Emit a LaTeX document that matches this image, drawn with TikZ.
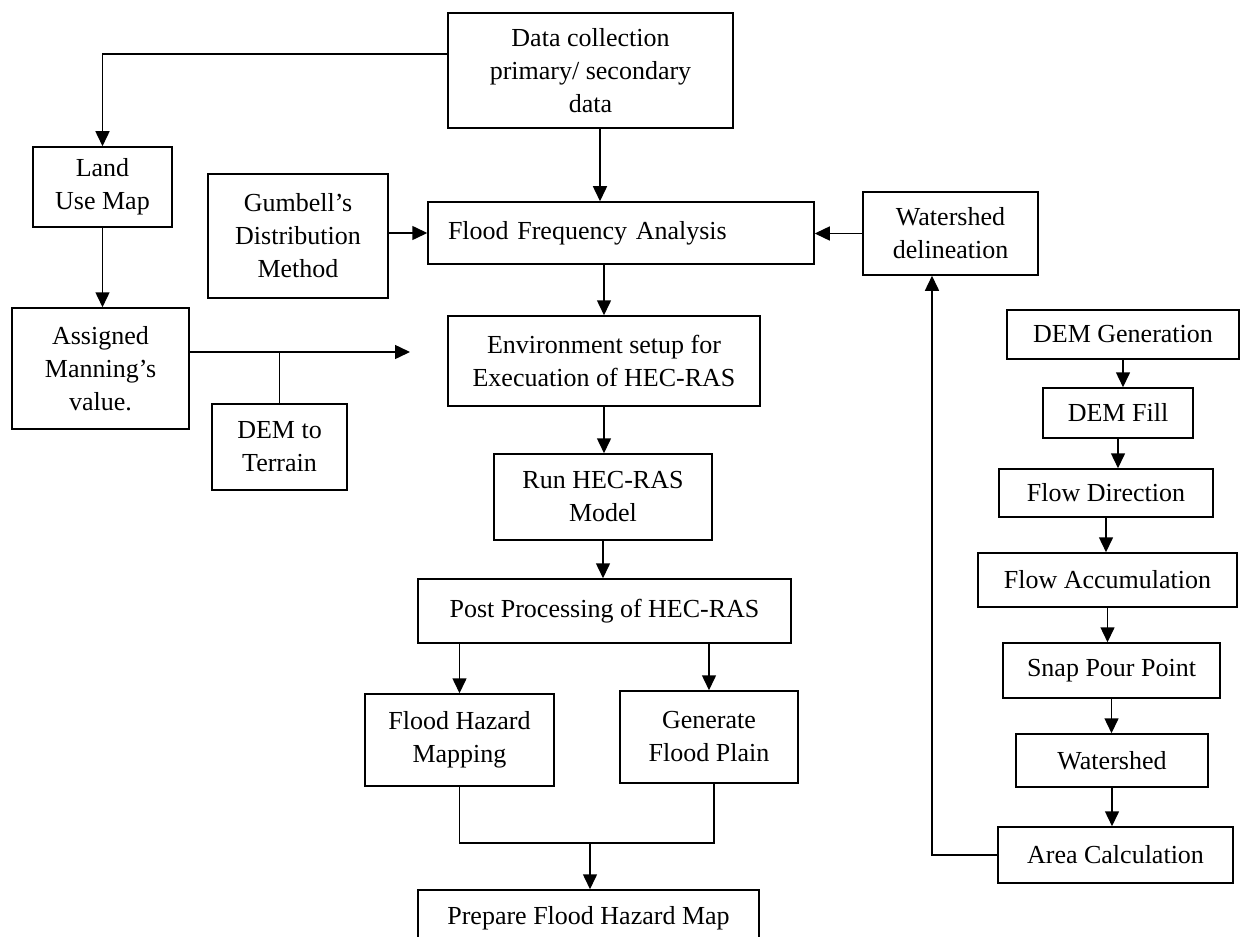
\documentclass[tikz,border=0pt]{standalone}
\usepackage{fontspec}
\setmainfont{Liberation Serif}
\usetikzlibrary{arrows.meta,positioning}

\begin{document}
\begin{tikzpicture}[x=0.5pt,y=-0.5pt]
 \tikzset{box node/.style={rectangle, draw, line width=0.75pt,
 		text centered, align=center, inner sep=0pt,
 		font=\fontsize{13}{16.5}\selectfont}, }
 \tikzset{dims/.style 2 args={minimum width=#1*0.5pt, minimum height=#2*0.5pt}, }
 \tikzset{linea/.style={line width=0.75pt, -{Triangle[length=7.5pt,width=7pt]}},}
 \tikzset{tratto/.style={line width=0.75pt},}
 \fill[white] (0,0) rectangle (1245,936);
 \useasboundingbox (0,0) rectangle (1245,936);
 % left and middle part
 \node[box node, dims={285}{115}] (data) at (590.5,70.5) {Data collection\\primary/ secondary\\data};
 \node[box node, dims={139}{80}] (land) at (102.5,187) {Land\\Use Map};
 \node[box node, dims={180}{124}] (gum) at (298,236) {Gumbell’s\\Distribution\\Method};
 \node[box node, dims={386}{62}, text width=173pt, align=left, inner xsep=10pt] (ffa) at (621,233) {Flood Frequency Analysis};
 \node[box node, dims={175}{83}] (wd) at (950.5,233.5) {Watershed\\delineation};
 \node[box node, dims={177}{121}] (assigned) at (100.5,368.5) {Assigned\\Manning’s\\value.};
 \node[box node, dims={135}{86}] (dem2t) at (279.5,447) {DEM to\\Terrain};
 \node[box node, dims={312}{90}] (env) at (604,361) {Environment setup for\\Execuation of HEC-RAS};
 \node[box node, dims={218}{86}] (run) at (603,497) {Run HEC-RAS\\Model};
 \node[box node, dims={373}{64}] (post) at (604.5,611) {Post Processing of HEC-RAS};
 \node[box node, dims={189}{92}] (fhm) at (459.5,740) {Flood Hazard\\Mapping};
 \node[box node, dims={178}{92}] (gfp) at (709,737) {Generate\\Flood Plain};
 \node[box node, dims={341}{56}] (prep) at (588.5,918) {Prepare Flood Hazard Map};
 % right column
 \node[box node, dims={232}{49}] (demgen) at (1123,334.5) {DEM Generation};
 \node[box node, dims={150}{50}] (fill) [below=13.75pt of demgen, xshift=-2.5pt] {DEM Fill};
 \node[box node, dims={214}{48}] (fdir) [below=14.75pt of fill, xshift=-6pt] {Flow Direction};
 \node[box node, dims={259}{54}] (facc) [below=17.25pt of fdir, xshift=0.75pt] {Flow Accumulation};
 \node[box node, dims={217}{55}] (snap) [below=17.25pt of facc, xshift=2pt] {Snap Pour Point};
 \node[box node, dims={192}{53}] (ws) [below=17.25pt of snap, xshift=0.25pt] {Watershed};
 \node[box node, dims={235}{56}] (area) [below=19.25pt of ws, xshift=1.75pt] {Area Calculation};
 \coordinate (tip) at (410,352);
 \coordinate (join) at (590,843);
 \path (data.south) ++(9.5,0) coordinate (d1);
 % connectors
 \draw[linea] ([yshift=8.25pt]data.west) -| (land.north);
 \draw[linea] (land.south) -- (land.south |- assigned.north);
 \draw[linea] (d1) -- (d1 |- ffa.north);
 \draw[linea] (gum.east |- ffa.west) -- (ffa.west);
 \draw[linea] (wd.west) -- (wd.west -| ffa.east);
 \draw[linea] (ffa.south -| env.north) -- (env.north);
 \draw[linea] (assigned.east |- tip) -- (tip);
 \draw[tratto] (dem2t.north) -- (dem2t.north |- tip);
 \draw[linea] (env.south) -- (env.south |- run.north);
 \draw[linea] (run.south) -- (run.south |- post.north);
 \draw[linea] (post.south -| fhm.north) -- (fhm.north);
 \draw[linea] (post.south -| gfp.north) -- (gfp.north);
 \draw[tratto] (fhm.south) |- (join) -| ([xshift=2.5pt]gfp.south);
 \draw[linea] (join) -- (join |- prep.north);
 \foreach \x/\y in {demgen/fill,fill/fdir,fdir/facc,facc/snap,snap/ws,ws/area}
 \draw[linea] (\x.south) -- (\x.south |- \y.north);
 \draw[linea] (area.west) -| ([xshift=-9.25pt]wd.south);
\end{tikzpicture}
\end{document}
